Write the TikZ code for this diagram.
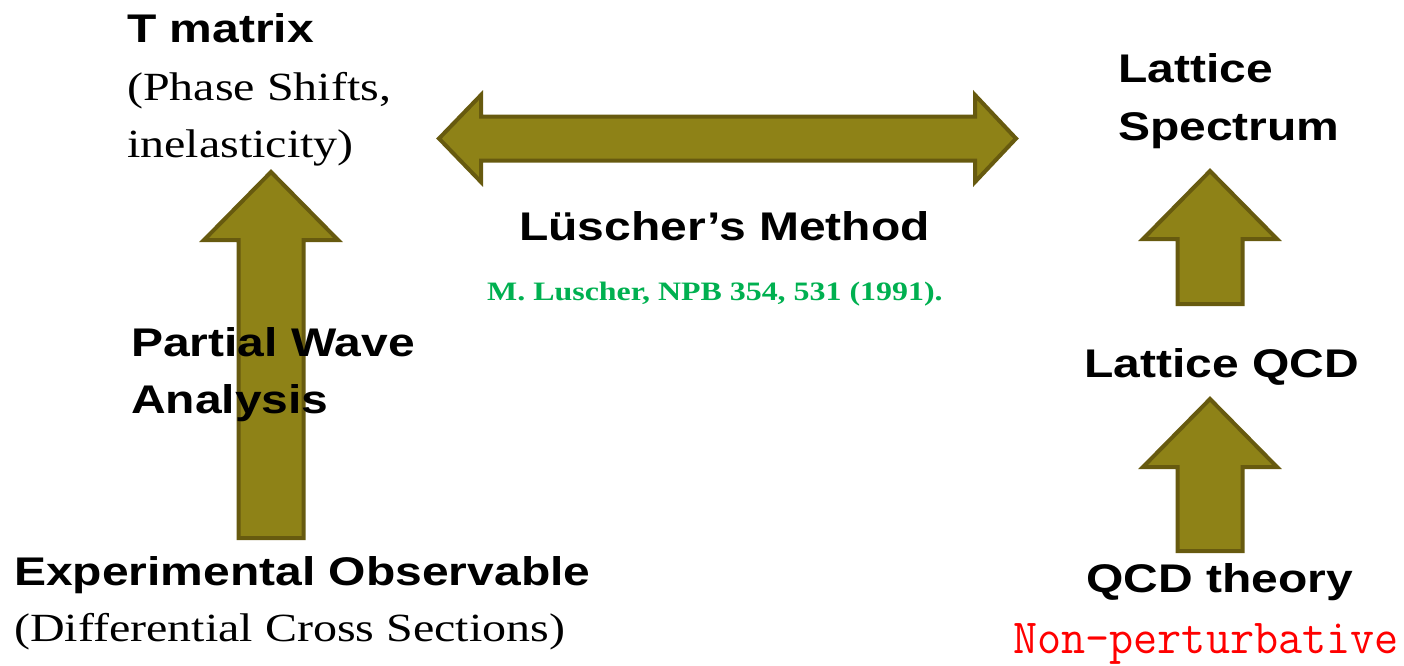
\documentclass[tikz,border=0pt]{standalone}
\usepackage{fontspec}
\setmainfont{Liberation Serif}[FakeStretch=1.2]
\newfontfamily\labelsans{Liberation Sans}[FakeStretch=1.2]
\setmonofont{Latin Modern Mono}[FakeStretch=0.955]

\definecolor{arrowfill}{HTML}{8E8217}
\definecolor{arrowedge}{HTML}{675A0F}
\definecolor{citegreen}{HTML}{00B050}
\definecolor{warnred}{HTML}{FF0000}

\tikzset{
  heading/.style={anchor=base west, inner sep=0pt,
    font=\labelsans\bfseries\fontsize{40}{48}\selectfont},
  remark/.style={anchor=base west, inner sep=0pt,
    font=\rmfamily\fontsize{40}{48}\selectfont},
  citation/.style={anchor=base west, inner sep=0pt, text=citegreen,
    font=\rmfamily\bfseries\fontsize{26.6}{30}\selectfont},
  caveat/.style={anchor=base west, inner sep=0pt, text=warnred,
    font=\ttfamily\fontsize{49}{55}\selectfont},
  blockarrow/.style={fill=arrowfill, draw=arrowedge, line width=4pt,
    line join=miter},
}

% upward block arrow: centre x, tail y, tip y
\newcommand\upblock[3]{%
  \draw[blockarrow]
    (#1-32.5,#2) -- (#1+32.5,#2) -- (#1+32.5,#3+68) -- (#1+67,#3+68)
    -- (#1,#3) -- (#1-67,#3+68) -- (#1-32.5,#3+68) -- cycle;}

\begin{document}
\begin{tikzpicture}[x=1pt, y=-1pt]
  \useasboundingbox (0,0) rectangle (1404,665);

  % block arrows
  \upblock{271}{538}{172}
  \upblock{1210}{304}{171}
  \upblock{1210}{551}{399}
  \draw[blockarrow]
    (439,138.5) -- (481,95) -- (481,116.5) -- (975,116.5) -- (975,95)
    -- (1016,138.5) -- (975,182) -- (975,160.5) -- (481,160.5) -- (481,182) -- cycle;

  % left column
  \node[heading] (tmat) at (127,42) {T matrix};
  \node[remark]  (tmat2) at (127,100) {(Phase Shifts,};
  \node[remark]  (tmat3) at (127,157) {inelasticity)};

  \node[heading] (pwa)  at (131,356) {Partial Wave};
  \node[heading] (pwa2) at (131,413) {Analysis};

  \node[heading] (expobs)  at (14,585) {Experimental Observable};
  \node[remark]  (expobs2) at (14,641) {(Differential Cross Sections)};

  % centre
  \node[heading] (luscher) at (519,240) {Lüscher’s Method};
  \node[citation] (ref) at (487,300) {M. Luscher, NPB 354, 531 (1991).};

  % right column
  \node[heading] (spec)  at (1118,82) {Lattice};
  \node[heading] (spec2) at (1118,140) {Spectrum};
  \node[heading] (lqcd)  at (1084,377) {Lattice QCD};
  \node[heading] (qcd)   at (1086,592) {QCD theory};
  \node[caveat]  (np)    at (1013,653) {Non-perturbative};
\end{tikzpicture}
\end{document}
